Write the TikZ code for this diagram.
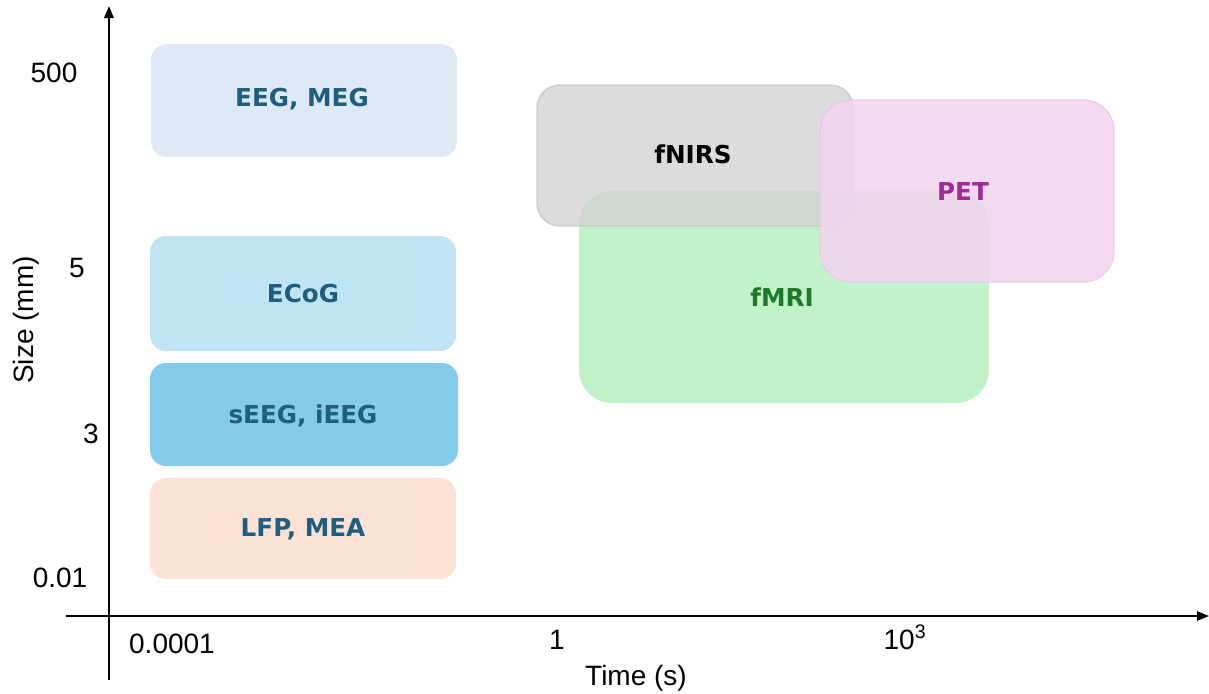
\documentclass[tikz,border=0pt]{standalone}
\usepackage{fontspec}
\setmainfont{Liberation Sans}
\newfontfamily\boxfont{DejaVu Sans}
\usetikzlibrary{arrows.meta}
\definecolor{eegc}{HTML}{DDEAF6}
\definecolor{ecogc}{HTML}{C0E4F4}
\definecolor{seegc}{HTML}{84CAEB}
\definecolor{lfpc}{HTML}{FBE2D5}
\definecolor{labc}{HTML}{1F5E7E}
\definecolor{grayc}{HTML}{D3D3D3}
\definecolor{grayb}{HTML}{C6C6C6}
\definecolor{greenc}{HTML}{C1F1C8}
\definecolor{pinkc}{HTML}{F2D4EF}
\definecolor{pinkb}{HTML}{EEC2EA}
\definecolor{petc}{HTML}{A02C98}
\definecolor{fmric}{HTML}{1E7A2A}
\tikzset{
  leftbox/.style={draw=none, rounded corners=12pt},
  boxlabel/.style={font=\boxfont\fontsize{18.5}{20}\selectfont\bfseries, anchor=base, inner sep=0pt},
  axislabel/.style={font=\fontsize{21}{23}\selectfont, anchor=base, inner sep=0pt},
  axisline/.style={line width=1.5pt, -{Triangle[length=9pt,width=7pt]}},
}
\begin{document}
\begin{tikzpicture}[x=0.75pt,y=-0.75pt]
\useasboundingbox (0,0) rectangle (1209,693);
% left column boxes
\fill[eegc, leftbox] (151,44) rectangle (457,157);
\fill[ecogc, leftbox] (150,236) rectangle (456,351);
\fill[seegc, leftbox] (150,363) rectangle (458,466);
\fill[lfpc, leftbox] (150,478) rectangle (456,579);
% right boxes
\fill[greenc, rounded corners=25pt] (579,191) rectangle (989,403);
\filldraw[fill=grayc, fill opacity=0.8, draw=grayb, draw opacity=0.8, line width=1pt, rounded corners=17pt] (537,85) rectangle (853,226);
\filldraw[fill=pinkc, fill opacity=0.85, draw=pinkb, draw opacity=0.8, line width=1pt, rounded corners=23pt] (820,100) rectangle (1114,282);
% labels
\node[boxlabel, text=labc] (leeg) at (302,106) {EEG, MEG};
\node[boxlabel, text=labc] (lecog) at (303,302) {ECoG};
\node[boxlabel, text=labc] (lseeg) at (303,423) {sEEG, iEEG};
\node[boxlabel, text=labc] (llfp) at (303,536) {LFP, MEA};
\node[boxlabel, text=black] (lfnirs) at (693,163) {fNIRS};
\node[boxlabel, text=fmric] (lfmri) at (782,306) {fMRI};
\node[boxlabel, text=petc] (lpet) at (963,200) {PET};
% axes
\coordinate (ybot) at (109,680);
\coordinate (ytop) at (109,6);
\coordinate (xleft) at (66,616);
\coordinate (xright) at (1209,616);
\draw[axisline] (ybot) -- (ytop);
\draw[axisline] (xleft) -- (xright);
% tick labels
\node[axislabel] (y500) at (54,82) {500};
\node[axislabel] (y5) at (77,277) {5};
\node[axislabel] (y3) at (91,443) {3};
\node[axislabel] (y001) at (60,587) {0.01};
\node[axislabel] (x0001) at (172,653) {0.0001};
\node[axislabel] (x1) at (557,649) {1};
\node[axislabel] (x1000) at (905,649) {10\textsuperscript{3}};
\node[axislabel] (xtitle) at (636,685) {Time (s)};
\node[font=\fontsize{21}{23}\selectfont, rotate=90, inner sep=0pt] (ytitle) at (26,320) {Size (mm)};
\end{tikzpicture}
\end{document}
